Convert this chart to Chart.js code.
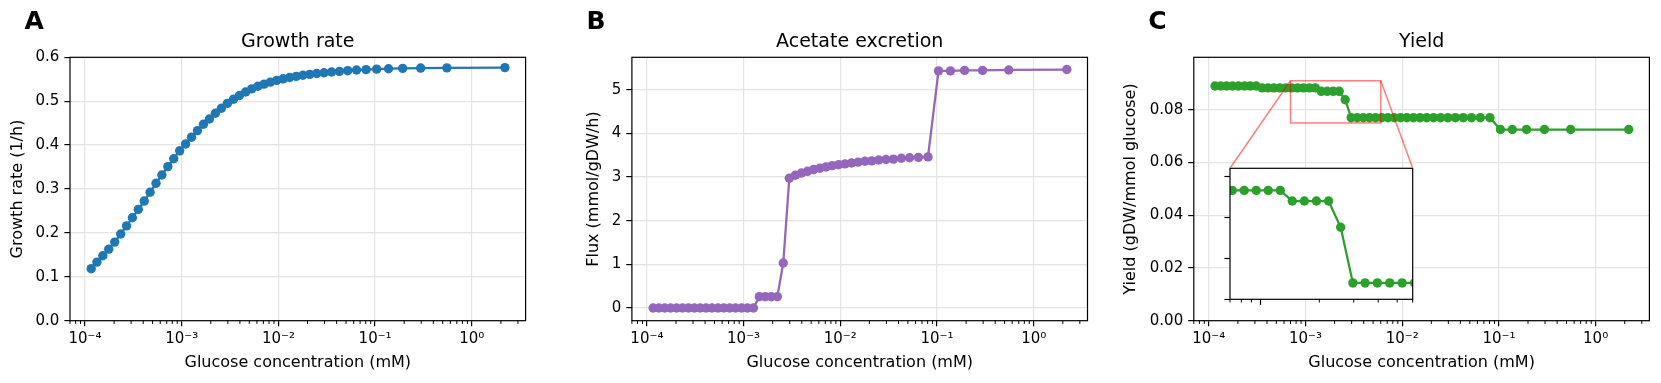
<!DOCTYPE html>
<html>
<head>
<meta charset="utf-8">
<script src="https://cdn.jsdelivr.net/npm/chart.js@4.4.0/dist/chart.umd.min.js"></script>
<style>
html,body{margin:0;padding:0;background:#fff;}
#wrap{position:relative;width:1661px;height:383px;overflow:hidden;background:#fff;}
#wrap canvas{position:absolute;left:0;top:0;}
.letter{position:absolute;font-family:'DejaVu Sans',sans-serif;font-weight:bold;font-size:25px;line-height:25px;color:#000;}
</style>
</head>
<body>
<div id="wrap">
  <canvas id="cA" width="1661" height="383"></canvas>
  <canvas id="cB" width="1661" height="383"></canvas>
  <canvas id="cC" width="1661" height="383"></canvas>
  <canvas id="cIn" width="1661" height="383"></canvas>
  <div class="letter" style="left:24.5px;top:7.5px;">A</div>
  <div class="letter" style="left:586.4px;top:7.5px;">B</div>
  <div class="letter" style="left:1148.3px;top:7.5px;">C</div>
</div>
<script>
// ---------------- data ----------------
const glucoseConc = [1.16e-4, 1.33e-4, 1.53e-4, 1.76e-4, 2.03e-4, 2.34e-4, 2.69e-4, 3.09e-4, 3.56e-4, 4.10e-4,
  4.71e-4, 5.43e-4, 6.24e-4, 7.19e-4, 8.27e-4, 9.53e-4, 1.097e-3, 1.264e-3, 1.456e-3, 1.678e-3,
  1.934e-3, 2.231e-3, 2.573e-3, 2.969e-3, 3.428e-3, 3.961e-3, 4.579e-3, 5.297e-3, 6.137e-3, 7.115e-3,
  8.261e-3, 9.604e-3, 1.119e-2, 1.306e-2, 1.528e-2, 1.793e-2, 2.111e-2, 2.496e-2, 2.967e-2, 3.550e-2,
  4.281e-2, 5.212e-2, 6.430e-2, 8.069e-2, 0.1037, 0.1377, 0.1929, 0.2959, 0.5524, 2.200];
const growthRate = [0.1185, 0.1335, 0.148, 0.163, 0.179, 0.1975, 0.216, 0.2345, 0.2535, 0.2725,
  0.2925, 0.313, 0.332, 0.351, 0.369, 0.387, 0.4025, 0.418, 0.433, 0.4475,
  0.4595, 0.4725, 0.484, 0.495, 0.5045, 0.513, 0.521, 0.528, 0.534, 0.539,
  0.5435, 0.5475, 0.551, 0.554, 0.5565, 0.559, 0.561, 0.563, 0.5648, 0.5665,
  0.568, 0.5695, 0.571, 0.572, 0.573, 0.574, 0.5748, 0.5755, 0.576, 0.5765];
const acetateFlux = [0, 0, 0, 0, 0, 0, 0, 0, 0, 0,
  0, 0, 0, 0, 0, 0, 0, 0, 0.26, 0.26,
  0.26, 0.26, 1.03, 2.97, 3.04, 3.09, 3.13, 3.17, 3.20, 3.23,
  3.26, 3.28, 3.30, 3.32, 3.34, 3.36, 3.37, 3.39, 3.40, 3.41,
  3.43, 3.44, 3.45, 3.46, 5.43, 5.43, 5.44, 5.44, 5.45, 5.46];
const yieldValues = [0.0890, 0.0890, 0.0890, 0.0890, 0.0890, 0.0890, 0.0890, 0.0890, 0.0883, 0.0883,
  0.0883, 0.0883, 0.0883, 0.0883, 0.0883, 0.0883, 0.0883, 0.0883, 0.0870, 0.0870,
  0.0870, 0.0870, 0.0838, 0.0770, 0.0770, 0.0770, 0.0770, 0.0770, 0.0770, 0.0770,
  0.0770, 0.0770, 0.0770, 0.0770, 0.0770, 0.0770, 0.0770, 0.0770, 0.0770, 0.0770,
  0.0770, 0.0770, 0.0770, 0.0770, 0.0725, 0.0725, 0.0725, 0.0725, 0.0725, 0.0725];

const xTickValues = [1e-4, 1e-3, 1e-2, 1e-1, 1];
const xTickLabels = ['10\u207B\u2074', '10\u207B\u00B3', '10\u207B\u00B2', '10\u207B\u00B9', '10\u2070'];
const growthTicks = [0, 0.1, 0.2, 0.3, 0.4, 0.5, 0.6];
const fluxTicks = [0, 1, 2, 3, 4, 5];
const yieldTicks = [0, 0.02, 0.04, 0.06, 0.08];
const insetXTicks = [1e-3];
const insetYTicks = [0.075, 0.08, 0.085, 0.09];

const xLimits = [7.085e-5, 3.60];
const growthLimits = [0, 0.6];
const fluxLimits = [-0.29, 5.74];
const yieldLimits = [0, 0.0999];
const insetXLimits = [7e-4, 6e-3];
const insetYLimits = [0.075, 0.091];

const titles = ['Growth rate', 'Acetate excretion', 'Yield'];
const yLabels = ['Growth rate (1/h)', 'Flux (mmol/gDW/h)', 'Yield (gDW/mmol glucose)'];
const xLabel = 'Glucose concentration (mM)';

// ---------------- style / layout ----------------
const FONT = "'DejaVu Sans', sans-serif";
const W = 1661, H = 383;
const AX_TOP = 57.3, AX_BOTTOM = 320.7;
const TICK_LEN = 5.6, MINOR_LEN = 3.2, TICK_W = 1.2;
const GRID_COLOR = '#e4e4e4';
const TICK_FONT = 15, LABEL_FONT = 16, TITLE_FONT = 19;
const MARKER_R = 4.7, LINE_W = 2.3;

Chart.defaults.font.family = FONT;
Chart.defaults.color = '#000';

function minorLogValues(min, max) {
  const out = [];
  for (let e = Math.floor(Math.log10(min)); e <= Math.ceil(Math.log10(max)); e++) {
    for (let m = 2; m <= 9; m++) {
      const v = m * Math.pow(10, e);
      if (v >= min * 0.9999 && v <= max * 1.0001) out.push(v);
    }
  }
  return out;
}

const framePlugin = {
  id: 'frameMinor',
  beforeDraw(chart, args, opts) {
    if (opts.fill) {
      const a = chart.chartArea, ctx = chart.ctx;
      ctx.save();
      ctx.fillStyle = '#fff';
      ctx.fillRect(a.left - 1, a.top - 1, a.right - a.left + 2, a.bottom - a.top + 2);
      ctx.restore();
    }
  },
  afterDatasetsDraw(chart, args, opts) {
    if (opts.drawZoom) opts.drawZoom(chart);
  },
  afterDraw(chart, args, opts) {
    const ctx = chart.ctx, a = chart.chartArea, x = chart.scales.x;
    ctx.save();
    ctx.strokeStyle = '#000';
    ctx.lineWidth = 1;
    for (const v of minorLogValues(x.min, x.max)) {
      const px = x.getPixelForValue(v);
      if (px < a.left - 0.5 || px > a.right + 0.5) continue;
      ctx.beginPath();
      ctx.moveTo(px, a.bottom);
      ctx.lineTo(px, a.bottom + MINOR_LEN);
      ctx.stroke();
    }
    ctx.lineWidth = TICK_W;
    ctx.strokeRect(a.left, a.top, a.right - a.left, a.bottom - a.top);
    ctx.restore();
  }
};

function fixedTicks(values) {
  return function (scale) {
    scale.ticks = values.filter(v => v >= scale.min - 1e-12 && v <= scale.max + 1e-12).map(v => ({value: v}));
  };
}

function makePanel(canvasId, cfg) {
  const padLeft = cfg.yTitleCenter - LABEL_FONT * 1.2 / 2;
  const wy = cfg.axL - padLeft;
  const titleH = TITLE_FONT * 1.2;
  const padTop = 30.5;
  const points = glucoseConc.map((x, i) => ({x: x, y: cfg.values[i]}));
  return new Chart(document.getElementById(canvasId), {
    type: 'line',
    data: {datasets: [{
      data: points,
      borderColor: cfg.color,
      backgroundColor: cfg.color,
      borderWidth: LINE_W,
      pointRadius: MARKER_R,
      pointBorderWidth: 0,
      pointHoverRadius: MARKER_R,
      tension: 0
    }]},
    options: {
      responsive: false,
      animation: false,
      devicePixelRatio: 1,
      events: [],
      layout: {padding: {left: padLeft, right: W - cfg.axR, top: padTop, bottom: 0}},
      plugins: {
        legend: {display: false},
        tooltip: {enabled: false},
        title: {
          display: true, text: cfg.title, fullSize: false, color: '#000',
          font: {family: FONT, size: TITLE_FONT, weight: 'normal', lineHeight: 1.2},
          padding: {top: 0, bottom: AX_TOP - padTop - titleH}
        },
        frameMinor: {fill: false, drawZoom: cfg.drawZoom}
      },
      scales: {
        x: {
          type: 'logarithmic',
          min: xLimits[0], max: xLimits[1],
          afterBuildTicks: fixedTicks(xTickValues),
          afterFit(scale) { scale.height = H - AX_BOTTOM; },
          border: {display: false},
          grid: {display: true, drawOnChartArea: true, drawTicks: true, color: GRID_COLOR, lineWidth: 1.2,
                 tickColor: '#000', tickWidth: TICK_W, tickLength: TICK_LEN},
          ticks: {
            autoSkip: false, maxRotation: 0, padding: 3.5, color: '#000',
            font: {family: FONT, size: TICK_FONT, lineHeight: 1.2},
            callback: (v) => { const k = xTickValues.indexOf(v); return k >= 0 ? xTickLabels[k] : ''; }
          },
          title: {display: true, text: xLabel, color: '#000',
                  font: {family: FONT, size: LABEL_FONT, lineHeight: 1.2}, padding: {top: 0, bottom: 10.4}}
        },
        y: {
          type: 'linear',
          min: cfg.ylim[0], max: cfg.ylim[1],
          afterBuildTicks: fixedTicks(cfg.yticks),
          afterFit(scale) { scale.width = wy; },
          border: {display: false},
          grid: {display: true, drawOnChartArea: true, drawTicks: true, color: GRID_COLOR, lineWidth: 1.2,
                 tickColor: '#000', tickWidth: TICK_W, tickLength: TICK_LEN},
          ticks: {
            autoSkip: false, padding: 5, color: '#000',
            font: {family: FONT, size: TICK_FONT, lineHeight: 1.2},
            callback: cfg.yfmt
          },
          title: {display: true, text: cfg.ylabel, color: '#000',
                  font: {family: FONT, size: LABEL_FONT, lineHeight: 1.2}, padding: {top: 0, bottom: 0}}
        }
      }
    },
    plugins: [framePlugin]
  });
}

// ---------------- inset ----------------
const IN_L = 1230, IN_R = 1412.7, IN_T = 168.3, IN_B = 299.3;
const insetPoints = glucoseConc.map((x, i) => ({x: x, y: yieldValues[i]}));
const insetChart = new Chart(document.getElementById('cIn'), {
  type: 'line',
  data: {datasets: [{
    data: insetPoints,
    borderColor: '#2ca02c', backgroundColor: '#2ca02c',
    borderWidth: LINE_W, pointRadius: MARKER_R, pointBorderWidth: 0, tension: 0
  }]},
  options: {
    responsive: false, animation: false, devicePixelRatio: 1, events: [],
    layout: {padding: {left: IN_L - 8, right: W - IN_R, top: IN_T, bottom: H - IN_B - 8}},
    plugins: {legend: {display: false}, tooltip: {enabled: false}, title: {display: false},
              frameMinor: {fill: true}},
    scales: {
      x: {
        type: 'logarithmic', min: insetXLimits[0], max: insetXLimits[1],
        afterBuildTicks: fixedTicks(insetXTicks),
        afterFit(scale) { scale.height = 8; },
        border: {display: false},
        grid: {display: true, drawOnChartArea: false, drawTicks: true, tickColor: '#000', tickWidth: TICK_W, tickLength: TICK_LEN},
        ticks: {display: false}
      },
      y: {
        type: 'linear', min: insetYLimits[0], max: insetYLimits[1],
        afterBuildTicks: fixedTicks(insetYTicks),
        afterFit(scale) { scale.width = 8; },
        border: {display: false},
        grid: {display: true, drawOnChartArea: false, drawTicks: true, tickColor: '#000', tickWidth: TICK_W, tickLength: TICK_LEN},
        ticks: {display: false}
      }
    }
  },
  plugins: [framePlugin]
});

function drawZoomIndicator(chart) {
  const ctx = chart.ctx, xs = chart.scales.x, ys = chart.scales.y;
  const x0 = xs.getPixelForValue(insetXLimits[0]), x1 = xs.getPixelForValue(insetXLimits[1]);
  const y0 = ys.getPixelForValue(insetYLimits[1]), y1 = ys.getPixelForValue(insetYLimits[0]);
  const ia = insetChart.chartArea;
  ctx.save();
  ctx.strokeStyle = 'rgba(255,0,0,0.5)';
  ctx.lineWidth = 1.5;
  ctx.strokeRect(x0, y0, x1 - x0, y1 - y0);
  ctx.beginPath();
  ctx.moveTo(x0, y0); ctx.lineTo(ia.left, ia.top);
  ctx.moveTo(x1, y0); ctx.lineTo(ia.right, ia.top);
  ctx.stroke();
  ctx.restore();
}

// ---------------- panels ----------------
makePanel('cA', {axL: 70, axR: 525.6, yTitleCenter: 18, title: titles[0], ylabel: yLabels[0],
  values: growthRate, color: '#1f77b4', ylim: growthLimits, yticks: growthTicks,
  yfmt: v => v.toFixed(1)});
makePanel('cB', {axL: 631.9, axR: 1087.5, yTitleCenter: 594, title: titles[1], ylabel: yLabels[1],
  values: acetateFlux, color: '#9467bd', ylim: fluxLimits, yticks: fluxTicks,
  yfmt: v => v.toFixed(0)});
makePanel('cC', {axL: 1193.8, axR: 1649.4, yTitleCenter: 1131, title: titles[2], ylabel: yLabels[2],
  values: yieldValues, color: '#2ca02c', ylim: yieldLimits, yticks: yieldTicks,
  yfmt: v => v.toFixed(2), drawZoom: drawZoomIndicator});
</script>
</body>
</html>
